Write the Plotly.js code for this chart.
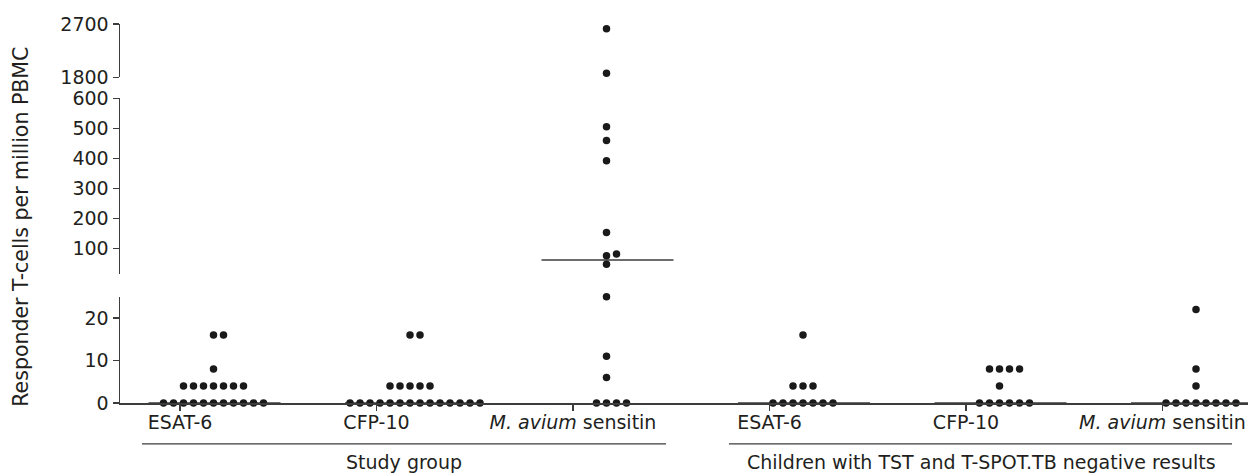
<!DOCTYPE html>
<html><head><meta charset="utf-8">
<script src="https://cdn.plot.ly/plotly-3.0.1.min.js"></script>
<style>html,body{margin:0;padding:0;background:#fff}</style>
</head><body><div id="chart" style="width:1248px;height:476px"></div>
<script>
// ---------- data ----------
const categories = ["ESAT-6", "CFP-10", "<i>M. avium</i> sensitin", "ESAT-6", "CFP-10", "<i>M. avium</i> sensitin"];
const groupLabels = ["Study group", "Children with TST and T-SPOT.TB negative results"];
const studyEsat6   = [0,0,0,0,0,0,0,0,0,0,0, 4,4,4,4,4,4,4, 8, 16,16];
const studyCfp10   = [0,0,0,0,0,0,0,0,0,0,0,0,0,0, 4,4,4,4,4, 16,16];
const studyMavium  = [0,0,0,0, 6, 11, 25, 47, 75, 81, 153, 392, 459, 505, 1868, 2620];
const negEsat6     = [0,0,0,0,0,0,0, 4,4,4, 16];
const negCfp10     = [0,0,0,0,0,0, 4, 8,8,8,8];
const negMavium    = [0,0,0,0,0,0,0,0, 4, 8, 22];
const seriesValues = [studyEsat6, studyCfp10, studyMavium, negEsat6, negCfp10, negMavium];
const yTicksLow  = [0, 10, 20];
const yTicksMid  = [100, 200, 300, 400, 500, 600];
const yTicksHigh = [1800, 2700];

// ---------- layout constants ----------
const TICK_START = 180, TICK_STEP = 196.5;          // x in pixel-like units
const TICK_POS = categories.map((_, i) => TICK_START + i * TICK_STEP);
const CLUSTER_SHIFT = 33.5;
const DOT_STEP = 10, DOT_D = 8;
const MEDIAN_HALF = 66;
const INK = '#231f20', AXC = '#3c3c3c';
const FONT = 'DejaVu Sans';
const FS = 19;

function segAxis(v) { return v <= 25 ? 'y' : (v <= 600 ? 'y2' : 'y3'); }
function median(a) {
  const s = a.slice().sort((p, q) => p - q), n = s.length;
  return n % 2 ? s[(n - 1) / 2] : (s[n / 2 - 1] + s[n / 2]) / 2;
}

function buildTraces(offsets) {
  const traces = [];
  seriesValues.forEach((vals, ci) => {
    const cx = TICK_POS[ci] + CLUSTER_SHIFT;
    const m = median(vals);
    traces.push({
      type: 'scatter', mode: 'lines', x: [cx + 1 - MEDIAN_HALF, cx + 1 + MEDIAN_HALF], y: [m, m],
      xaxis: 'x', yaxis: segAxis(m), cliponaxis: false, hoverinfo: 'skip', showlegend: false,
      line: {color: AXC, width: 1.5}
    });
    ['y', 'y2', 'y3'].forEach(ax => {
      const xs = [], ys = [];
      vals.forEach((v, i) => {
        if (segAxis(v) === ax) { xs.push(cx + (offsets ? offsets[ci][i] : 0)); ys.push(v); }
      });
      if (xs.length) traces.push({
        type: 'scatter', mode: 'markers', x: xs, y: ys, xaxis: 'x', yaxis: ax,
        cliponaxis: false, hoverinfo: 'skip', showlegend: false,
        marker: {size: 7.5, color: '#1a1a1a', line: {width: 0}}
      });
    });
  });
  return traces;
}

const tickfont = {family: FONT, size: FS, color: INK};
const yBase = {
  anchor: 'x', showline: true, linecolor: AXC, linewidth: 1.5, ticks: 'outside', ticklen: 6,
  tickwidth: 1.3, tickcolor: AXC, showgrid: false, zeroline: false, tickfont: tickfont, fixedrange: true
};
const layout = {
  width: 1248, height: 476, margin: {l: 120, r: 0, t: 24, b: 73},
  paper_bgcolor: '#fff', plot_bgcolor: '#fff', showlegend: false,
  font: {family: FONT, color: INK},
  xaxis: {
    range: [120, 1248], anchor: 'y', showline: true, linecolor: AXC, linewidth: 1.5,
    ticks: 'outside', ticklen: 6, tickwidth: 1.3, tickcolor: AXC, showgrid: false, zeroline: false,
    tickmode: 'array', tickvals: TICK_POS, ticktext: categories, tickfont: tickfont, fixedrange: true,
    ticklabelstandoff: -4
  },
  yaxis:  Object.assign({}, yBase, {domain: [0, 0.2805], range: [0, 25], tickmode: 'array', tickvals: yTicksLow}),
  yaxis2: Object.assign({}, yBase, {domain: [0.3404, 0.8040], range: [14.3, 600], tickmode: 'array', tickvals: yTicksMid}),
  yaxis3: Object.assign({}, yBase, {domain: [0.8594, 1], range: [1800, 2700], tickmode: 'array', tickvals: yTicksHigh}),
  shapes: [
    {type: 'line', xref: 'x', yref: 'paper', x0: 142, x1: 666, y0: -0.108, y1: -0.108, line: {color: AXC, width: 1.3}},
    {type: 'line', xref: 'x', yref: 'paper', x0: 729, x1: 1232, y0: -0.108, y1: -0.108, line: {color: AXC, width: 1.3}}
  ],
  annotations: [
    {text: groupLabels[0], xref: 'x', yref: 'paper', x: 404, y: -0.156, showarrow: false, xanchor: 'center', yanchor: 'middle', font: {family: FONT, size: FS, color: INK}},
    {text: groupLabels[1], xref: 'x', yref: 'paper', x: 981, y: -0.156, showarrow: false, xanchor: 'center', yanchor: 'middle', font: {family: FONT, size: FS, color: INK}},
    {text: 'Responder T-cells per million PBMC', xref: 'paper', yref: 'paper', x: -0.088, y: 0.4644, textangle: -90, showarrow: false, xanchor: 'center', yanchor: 'middle', font: {family: FONT, size: 20.5, color: INK}}
  ]
};

const gd = document.getElementById('chart');
const cfg = {displayModeBar: false, staticPlot: true};
Plotly.newPlot(gd, buildTraces(null), layout, cfg).then(() => {
  // beeswarm offsets computed in screen space with the library's own axis scales
  const fl = gd._fullLayout;
  const axes = {y: fl.yaxis, y2: fl.yaxis2, y3: fl.yaxis3};
  const offsets = seriesValues.map(vals => {
    const pts = vals.map((v, i) => ({i, v, py: axes[segAxis(v)]._offset + axes[segAxis(v)].l2p(v)}));
    pts.sort((a, b) => a.v - b.v);
    const placed = [], off = new Array(vals.length).fill(0);
    pts.forEach(p => {
      for (let k = 0; k < 60; k++) {
        const kk = k === 0 ? 0 : (k % 2 ? (k + 1) / 2 : -k / 2);
        const px = kk * DOT_STEP;
        if (placed.every(q => (q.px - px) ** 2 + (q.py - p.py) ** 2 >= DOT_D * DOT_D)) {
          placed.push({px, py: p.py}); off[p.i] = px; break;
        }
      }
    });
    return off;
  });
  return Plotly.react(gd, buildTraces(offsets), layout, cfg);
});
</script>
</body></html>
